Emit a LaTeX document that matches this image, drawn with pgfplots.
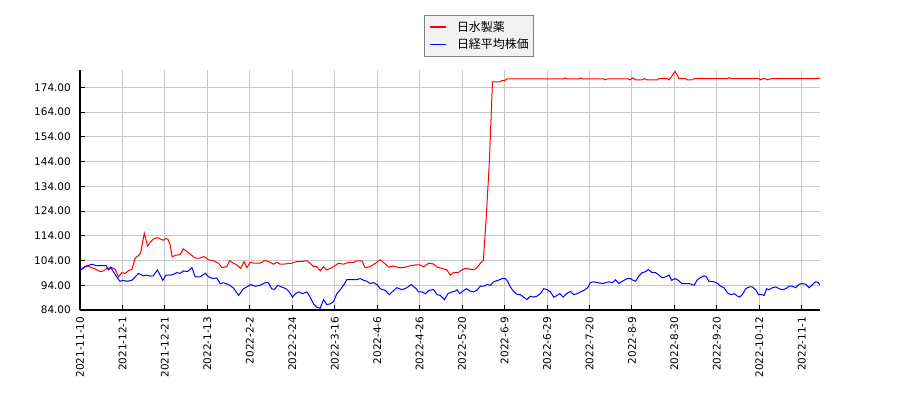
\documentclass[border=0pt]{standalone}
\usepackage{fontspec}
\setmainfont{DejaVu Sans}
\newfontfamily\cjk{Noto Sans CJK JP}
\usepackage{pgfplots}
\pgfplotsset{compat=1.18}
\definecolor{gridgray}{RGB}{200,200,200}
\definecolor{legfill}{RGB}{242,242,242}
\definecolor{legdraw}{RGB}{128,128,128}

\begin{document}
\begin{tikzpicture}
\begin{axis}[
    at={(0,0)}, anchor=south west,
    scale only axis,
    width=740bp, height=240bp,
    xmin=0, xmax=244,
    ymin=84, ymax=181,
    axis x line*=bottom,
    axis y line*=left,
    axis line style={black, line width=1.2bp, -},
    tick align=inside,
    major tick length=5bp,
    tick style={black, line width=1bp},
    grid=major,
    major grid style={gridgray, line width=1bp},
    ytick={84,94,...,174},
    xtick={0,14,...,238},
    xticklabels={2021-11-10,2021-12-1,2021-12-21,2022-1-13,2022-2-2,2022-2-24,2022-3-16,2022-4-6,2022-4-26,2022-5-20,2022-6-9,2022-6-29,2022-7-20,2022-8-9,2022-8-30,2022-9-20,2022-10-12,2022-11-1},
    ticklabel style={font=\fontsize{10.5}{12}\selectfont},
    xticklabel style={rotate=90, anchor=east, inner sep=0pt, xshift=-6.5bp},
    yticklabel style={inner sep=0pt, xshift=-9bp,
        /pgf/number format/.cd, fixed, fixed zerofill, precision=2, assume math mode=true},
    legend style={at={(axis description cs:0.4649,1.229)}, anchor=north west,
        draw=legdraw, fill=legfill, line width=1bp,
        font=\cjk\fontsize{12}{14}\selectfont,
        inner xsep=5bp, inner ysep=6bp, row sep=6.5bp, column sep=10bp,
        nodes={inner sep=0pt, text height=9.5bp, text depth=1.5bp}},
    legend cell align=left,
    legend image code/.code={\draw[#1, line width=1.5bp] (0bp,0bp) -- (16bp,0bp);},
]
\addplot[red, line width=1bp] coordinates {
(0,100.0)(1.1,101.1)(2.2,101.9)(3.3,101.4)(5.0,100.6)(6.6,99.5)(7.7,99.8)(8.8,100.8)(10.5,101.1)(11.6,100.5)
(12.7,97.4)(13.8,99.1)(14.9,98.8)(16.0,99.9)(17.1,100.4)(18.2,105.0)(19.3,106.0)(20.0,107.0)(20.6,111.2)(21.2,115.0)
(22.3,109.8)(23.3,111.6)(24.4,112.9)(25.5,113.2)(26.6,112.6)(27.5,112.2)(28.3,112.9)(29.0,112.6)(29.7,110.6)(30.4,105.4)
(31.4,106.1)(33.0,106.4)(34.1,108.7)(35.2,107.7)(36.3,106.6)(38.0,105.0)(39.6,105.0)(40.9,105.6)(42.4,104.3)(44.0,103.9)
(45.7,102.9)(46.8,101.1)(48.4,101.5)(49.3,103.9)(50.6,102.9)(51.7,102.2)(53.0,100.8)(54.1,103.6)(55.0,101.1)(56.1,103.2)
(57.8,102.9)(59.4,102.9)(61.1,104.1)(62.7,103.3)(63.8,102.5)(64.9,103.3)(66.0,102.5)(67.6,102.6)(69.8,102.9)(71.5,103.6)
(73.1,103.6)(74.8,103.9)(75.9,102.9)(77.0,101.5)(78.1,101.5)(79.2,99.8)(80.3,101.5)(81.4,100.2)(82.5,100.8)(83.6,101.5)
(85.2,102.9)(86.9,102.5)(88.5,103.2)(90.2,103.2)(91.3,103.9)(92.9,103.9)(94.0,101.1)(95.7,101.5)(97.4,102.9)(99.0,104.3)
(100.4,102.9)(101.8,101.3)(103.4,101.8)(105.1,101.1)(107.3,101.3)(108.9,101.9)(110.6,102.2)(112.2,102.2)(113.3,101.5)(115.0,102.9)
(116.6,102.6)(117.7,101.3)(119.4,100.8)(121.0,100.2)(122.1,98.1)(123.2,99.1)(124.8,99.2)(125.9,100.2)(127.0,100.8)(128.1,100.6)
(129.8,100.2)(130.9,101.1)(132.0,102.9)(133.0,104.0)(134.0,122.5)(135.0,144.5)(136.0,176.2)(138.5,176.2)(139.0,176.7)(140.0,176.7)
(140.8,177.4)(159.5,177.4)(160.1,177.8)(160.6,177.4)(164.5,177.4)(165.0,177.8)(165.6,177.4)(172.7,177.4)(173.3,177.0)(173.8,177.4)
(180.7,177.4)(181.3,177.0)(182.3,177.8)(183.2,177.0)(185.4,177.0)(186.1,177.5)(187.0,177.0)(190.4,177.0)(190.9,177.5)(193.7,177.5)
(194.2,177.0)(195.3,178.8)(196.2,180.4)(197.0,178.8)(197.5,177.5)(199.7,177.5)(200.3,177.0)(201.9,177.0)(202.5,177.5)(213.5,177.5)
(214.0,177.9)(214.9,177.5)(223.9,177.5)(224.5,177.0)(225.2,177.5)(225.9,177.5)(226.7,177.0)(227.8,177.5)(243.5,177.5)(244.0,177.9)
};
\addplot[blue, line width=1bp] coordinates {
(0,100.0)(1.7,101.5)(3.9,102.5)(5.5,101.9)(7.2,101.9)(8.6,101.9)(9.4,100.2)(10.1,101.3)(11.0,99.5)(12.1,97.4)
(13.2,95.6)(14.3,96.0)(15.4,95.6)(17.1,96.0)(18.2,97.4)(19.3,98.8)(20.9,97.8)(22.0,98.1)(23.1,97.7)(24.2,97.8)
(25.5,100.2)(26.4,98.1)(27.3,96.0)(28.4,98.1)(29.7,98.1)(30.8,98.4)(31.9,99.1)(33.0,98.8)(34.1,99.8)(35.4,99.5)
(36.9,101.1)(38.0,97.4)(39.6,97.4)(41.3,98.8)(42.4,97.4)(43.8,96.7)(45.1,97.0)(46.2,94.7)(47.3,95.0)(49.0,94.3)
(50.6,92.9)(52.3,89.9)(53.9,92.6)(55.0,93.3)(56.3,94.3)(57.8,93.6)(59.4,94.0)(61.1,95.1)(62.1,95.0)(63.2,92.6)
(64.1,92.3)(65.2,94.0)(66.5,93.3)(67.9,92.6)(69.0,91.3)(70.1,89.2)(71.0,90.6)(72.1,91.3)(73.4,90.6)(74.8,91.3)
(75.9,89.2)(77.0,86.5)(78.1,85.1)(79.2,84.7)(80.3,88.2)(81.4,86.2)(82.5,86.5)(83.6,87.4)(84.7,90.6)(85.8,92.2)
(86.9,94.0)(88.0,96.3)(89.1,96.3)(90.2,96.3)(91.3,96.3)(92.4,96.7)(93.5,96.0)(94.6,95.6)(95.7,94.7)(96.8,95.1)
(97.9,94.3)(99.0,92.6)(100.7,91.9)(102.0,90.2)(103.4,91.9)(104.5,93.0)(106.2,92.2)(107.8,93.0)(109.2,94.3)(110.6,92.9)
(111.7,91.3)(112.8,91.3)(113.9,90.6)(115.0,91.9)(116.6,92.3)(117.7,90.2)(118.8,89.9)(120.2,88.2)(121.3,90.6)(122.7,91.3)
(123.8,91.7)(124.3,92.2)(125.2,90.6)(126.3,91.7)(127.4,92.6)(128.5,91.7)(129.8,91.3)(130.9,92.0)(132.0,93.6)(133.1,93.6)
(134.2,94.3)(135.3,94.0)(136.4,95.4)(138.1,96.1)(139.2,96.7)(140.3,96.7)(141.0,95.6)(141.9,93.3)(143.0,91.5)(144.1,90.3)
(145.2,90.2)(146.3,89.2)(147.4,88.2)(148.5,89.6)(149.6,89.2)(150.7,89.6)(151.8,90.6)(152.9,92.6)(154.0,92.3)(155.1,91.3)
(156.2,89.2)(157.3,89.9)(158.2,90.6)(159.3,89.2)(160.4,90.6)(161.7,91.5)(162.8,90.2)(163.9,90.6)(165.0,91.3)(166.1,91.9)
(167.4,93.0)(168.3,95.1)(169.4,95.4)(170.5,95.1)(172.2,94.7)(173.3,95.0)(174.4,95.4)(175.5,95.0)(176.6,96.2)(177.7,94.7)
(178.8,95.6)(180.4,96.7)(181.5,96.7)(182.4,96.0)(183.2,95.6)(184.3,97.8)(185.4,99.1)(186.5,99.5)(187.4,100.4)(188.5,99.2)
(189.8,99.1)(190.9,98.1)(192.0,97.0)(193.1,97.4)(194.2,98.1)(195.1,96.0)(196.2,96.7)(197.3,96.0)(198.4,94.7)(200.8,94.7)
(202.5,94.0)(203.6,96.3)(204.7,97.2)(205.8,97.8)(206.5,97.4)(207.4,95.6)(209.1,95.4)(210.2,94.7)(211.3,93.6)(212.4,92.9)
(213.5,90.9)(214.6,90.2)(215.7,90.6)(216.8,89.6)(217.5,89.2)(218.4,90.2)(219.5,92.6)(220.6,93.3)(221.7,93.3)(222.8,92.2)
(223.7,90.2)(224.8,90.2)(225.6,89.9)(226.4,92.6)(227.2,92.2)(228.3,93.0)(229.4,93.3)(230.5,92.6)(231.6,92.2)(232.7,92.6)
(233.8,93.6)(234.9,93.6)(236.0,93.0)(237.1,94.4)(238.2,94.7)(239.3,94.4)(240.4,93.0)(241.5,94.3)(242.6,95.4)(243.4,95.1)
(244.0,94.0)
};
\legend{日水製薬, 日経平均株価}
\end{axis}
\pgfresetboundingbox
\path[use as bounding box] (-80bp,-90bp) rectangle (820bp,310bp);
\end{tikzpicture}
\end{document}
